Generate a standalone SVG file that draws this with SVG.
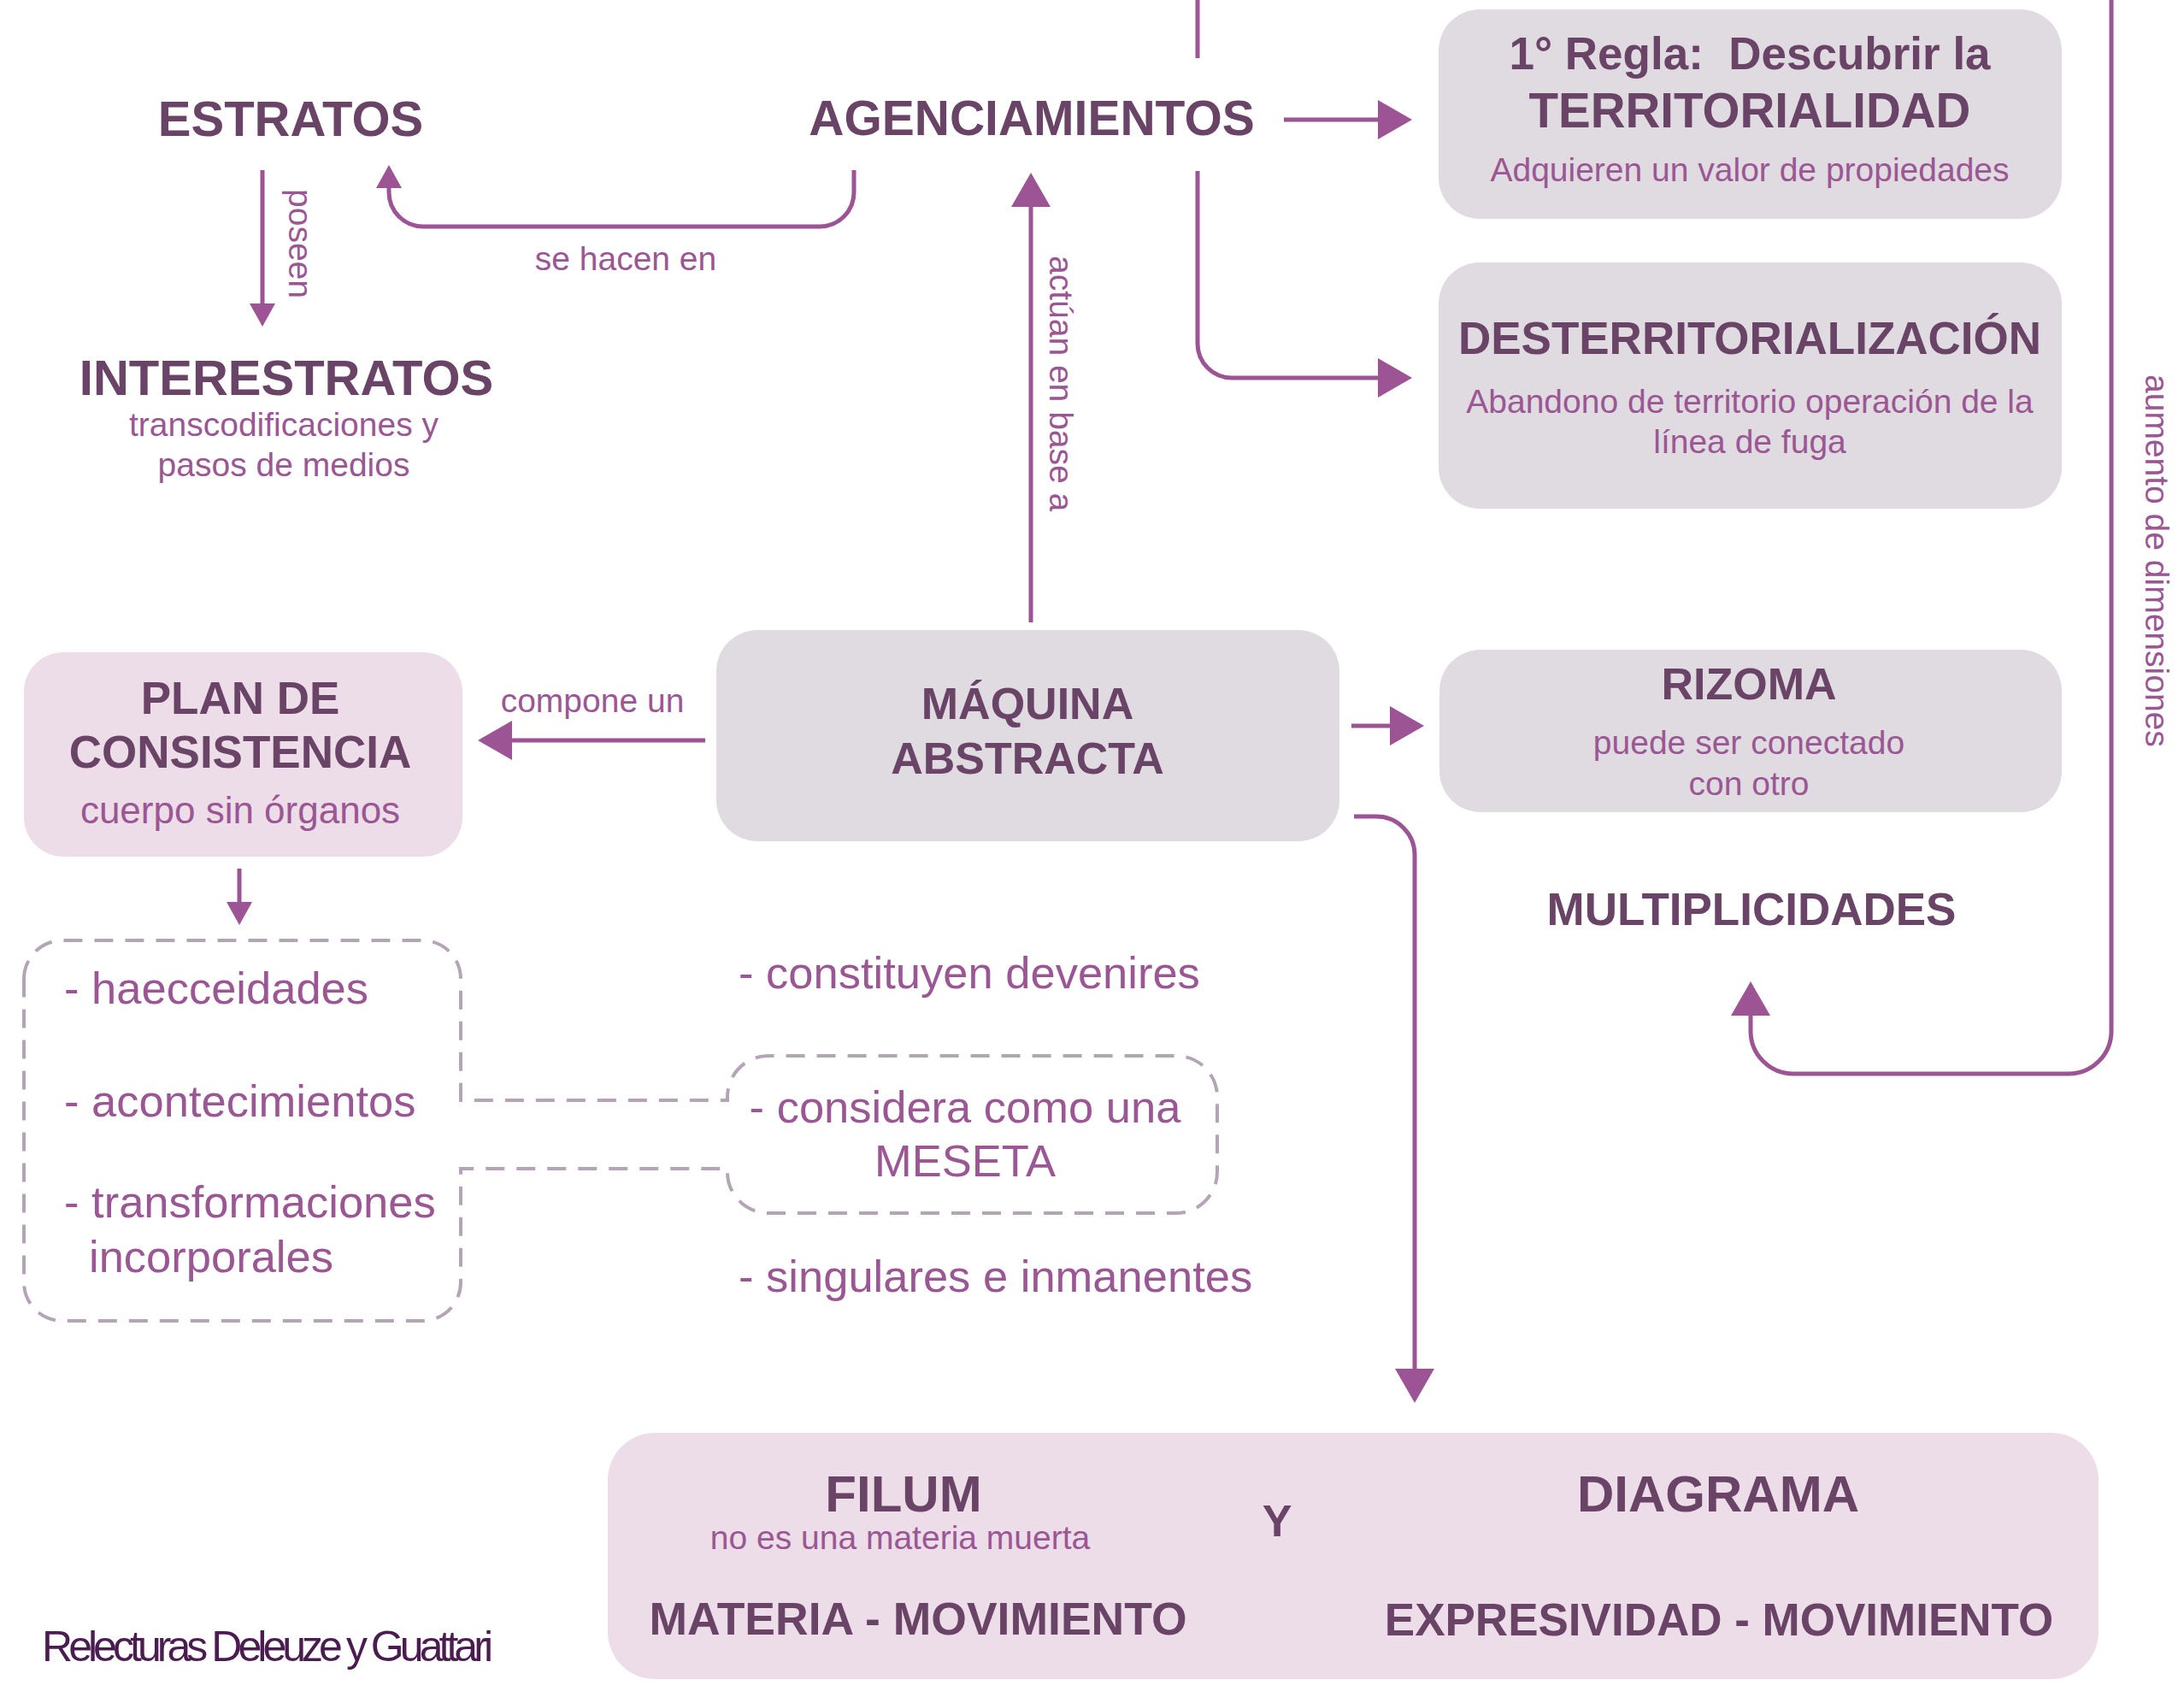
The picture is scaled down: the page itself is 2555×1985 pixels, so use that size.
<svg xmlns="http://www.w3.org/2000/svg" width="2555" height="1985" viewBox="0 0 2555 1985">
<style>
  text { font-family: "Liberation Sans", Arial, Helvetica, sans-serif; }
  .t { font-weight: bold; fill: #6a4467; text-anchor: middle; }
  .s { fill: #9b5694; text-anchor: middle; font-size: 39px; }
  .s.big { font-size: 44px; }
  .lbl { fill: #9b5694; font-size: 39px; }
  .item { fill: #9b5694; font-size: 52.5px; }
  .grey { fill: #e0dbe1; }
  .pink { fill: #ecdde8; }
  .ln { fill: none; stroke: #9c5494; stroke-width: 5; }
  .dash { fill: none; stroke: #b4a5b6; stroke-width: 4; stroke-dasharray: 22 14; }
</style>
<defs>
  <marker id="ah" markerUnits="userSpaceOnUse" markerWidth="41" markerHeight="46" refX="1" refY="23" orient="auto" overflow="visible">
    <path d="M0,0 L40,23 L0,46 Z" fill="#9c5494"/>
  </marker>
  <marker id="ahs" markerUnits="userSpaceOnUse" markerWidth="28" markerHeight="30" refX="1" refY="15" orient="auto" overflow="visible">
    <path d="M0,0 L27,15 L0,30 Z" fill="#9c5494"/>
  </marker>
</defs>
<rect width="2555" height="1985" fill="#ffffff"/>

<g id="connectors">
  <path class="ln" d="M1401,0 V68"/>
  <path class="ln" d="M1502,140 H1613" marker-end="url(#ah)"/>
  <path class="ln" d="M1401,200 V402 A40,40 0 0 0 1441,442 H1613" marker-end="url(#ah)"/>
  <path class="ln" d="M999,199 V225 A40,40 0 0 1 959,265 H495 A40,40 0 0 1 455,225 V219" marker-end="url(#ahs)"/>
  <path class="ln" d="M307,199 V356" marker-end="url(#ahs)"/>
  <path class="ln" d="M1206,728 V241" marker-end="url(#ah)"/>
  <path class="ln" d="M825,866 H598" marker-end="url(#ah)"/>
  <path class="ln" d="M1581,849 H1627" marker-end="url(#ah)"/>
  <path class="ln" d="M1584,955 H1610 A45,45 0 0 1 1655,1000 V1602" marker-end="url(#ah)"/>
  <path class="ln" d="M280,1016 V1056" marker-end="url(#ahs)"/>
  <path class="ln" d="M2470,0 V1206 A50,50 0 0 1 2420,1256 H2098 A50,50 0 0 1 2048,1206 V1187" marker-end="url(#ah)"/>
  <text class="lbl" x="732" y="316" text-anchor="middle">se hacen en</text>
  <text class="lbl" x="693" y="833" text-anchor="middle">compone un</text>
  <text class="lbl" transform="translate(338,221) rotate(90)">poseen</text>
  <text class="lbl" transform="translate(1228,299) rotate(90)">actúan en base a</text>
  <text class="lbl" transform="translate(2510,438) rotate(90)">aumento de dimensiones</text>
</g>

<g id="estratos">
  <text class="t" x="340" y="159" font-size="58">ESTRATOS</text>
</g>
<g id="interestratos">
  <text class="t" x="335" y="462" font-size="58">INTERESTRATOS</text>
  <text class="s" x="332" y="510">transcodificaciones y</text>
  <text class="s" x="332" y="557">pasos de medios</text>
</g>
<g id="agenciamientos">
  <text class="t" x="1207" y="158" font-size="57">AGENCIAMIENTOS</text>
</g>
<g id="regla">
  <rect class="grey" x="1683" y="11" width="729" height="245" rx="48"/>
  <text class="t" x="2047" y="81" font-size="53" xml:space="preserve">1° Regla:  Descubrir la</text>
  <text class="t" x="2047" y="149" font-size="56.5">TERRITORIALIDAD</text>
  <text class="s" x="2047" y="212">Adquieren un valor de propiedades</text>
</g>
<g id="desterritorializacion">
  <rect class="grey" x="1683" y="307" width="729" height="288" rx="48"/>
  <text class="t" x="2047" y="414" font-size="53">DESTERRITORIALIZACIÓN</text>
  <text class="s" x="2047" y="483">Abandono de territorio operación de la</text>
  <text class="s" x="2047" y="530">línea de fuga</text>
</g>
<g id="rizoma">
  <rect class="grey" x="1684" y="760" width="728" height="190" rx="48"/>
  <text class="t" x="2046" y="818" font-size="52">RIZOMA</text>
  <text class="s" x="2046" y="882">puede ser conectado</text>
  <text class="s" x="2046" y="930">con otro</text>
</g>
<g id="multiplicidades">
  <text class="t" x="2049" y="1082" font-size="53">MULTIPLICIDADES</text>
</g>
<g id="maquina">
  <rect class="grey" x="838" y="737" width="729" height="247" rx="48"/>
  <text class="t" x="1202" y="841" font-size="52">MÁQUINA</text>
  <text class="t" x="1202" y="905" font-size="52">ABSTRACTA</text>
</g>
<g id="plan">
  <rect class="pink" x="28" y="763" width="513" height="239" rx="46"/>
  <text class="t" x="281" y="835" font-size="53">PLAN DE</text>
  <text class="t" x="281" y="898" font-size="53">CONSISTENCIA</text>
  <text class="s big" x="281" y="963">cuerpo sin órganos</text>
</g>
<g id="listas">
  <path class="dash" d="M28,1145 A45,45 0 0 1 73,1100 H494 A45,45 0 0 1 539,1145 V1287 H851 V1283 A48,48 0 0 1 899,1235 H1376 A48,48 0 0 1 1424,1283 V1371 A48,48 0 0 1 1376,1419 H899 A48,48 0 0 1 851,1371 V1367 H539 V1500 A45,45 0 0 1 494,1545 H73 A45,45 0 0 1 28,1500 Z"/>
  <text class="item" x="75" y="1174">- haecceidades</text>
  <text class="item" x="75" y="1306">- acontecimientos</text>
  <text class="item" x="75" y="1424">- transformaciones</text>
  <text class="item" x="104" y="1488">incorporales</text>
  <text class="item" x="864" y="1156">- constituyen devenires</text>
  <text class="item" x="1129" y="1313" text-anchor="middle">- considera como una</text>
  <text class="item" x="1129" y="1376" text-anchor="middle">MESETA</text>
  <text class="item" x="864" y="1511">- singulares e inmanentes</text>
</g>
<g id="filum-diagrama">
  <rect class="pink" x="711" y="1676" width="1744" height="288" rx="55"/>
  <text class="t" x="1057" y="1768" font-size="60">FILUM</text>
  <text class="s" x="1053" y="1812">no es una materia muerta</text>
  <text class="t" x="1074" y="1912" font-size="53.5">MATERIA - MOVIMIENTO</text>
  <text class="t" x="1494" y="1797" font-size="52">Y</text>
  <text class="t" x="2010" y="1768" font-size="60">DIAGRAMA</text>
  <text class="t" x="2011" y="1913" font-size="53">EXPRESIVIDAD - MOVIMIENTO</text>
</g>
<g id="credito">
  <text x="49" y="1943" font-size="50" fill="#4a1c50" textLength="528" lengthAdjust="spacing">Relecturas Deleuze y Guattari</text>
</g>
</svg>
